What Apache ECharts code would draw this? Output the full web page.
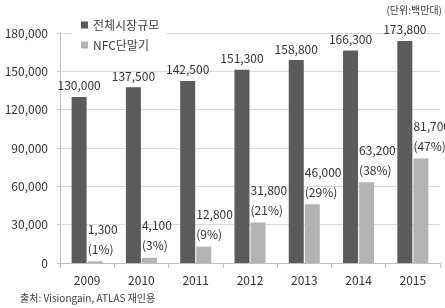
<!DOCTYPE html>
<html><head><meta charset="utf-8">
<script src="https://cdn.jsdelivr.net/npm/echarts@6/dist/echarts.min.js"></script>
<style>html,body{margin:0;padding:0;background:#fff}#c{width:445px;height:308px}</style>
</head><body><div id="c"></div>
<script>
const years = ['2009','2010','2011','2012','2013','2014','2015'];
const totalMarket = [130000,137500,142500,151300,158800,166300,173800];
const nfcDevices = [1300,4100,12800,31800,46000,63200,81700];
const nfcShare = [1,3,9,21,29,38,47];
const seriesNames = ['전체시장규모','NFC단말기'];
const unitText = '(단위:백만대)';
const sourceText = '출처: Visiongain, ATLAS 재인용';

const FONT = '"Noto Sans CJK KR", "Noto Sans", sans-serif';
const fmt = v => String(v).replace(/\B(?=(\d{3})+(?!\d))/g, ',');
const chart = echarts.init(document.getElementById('c'));
chart.setOption({
  animation: false,
  textStyle: {fontFamily: FONT},
  grid: {left: 60, right: 5, top: 33, bottom: 45},
  legend: {
    orient: 'vertical', left: 72, top: 14,
    backgroundColor: '#fff', padding: [4, 7, 4, 9],
    itemWidth: 7, itemHeight: 7, itemGap: 6, icon: 'rect',
    textStyle: {fontSize: 12, color: '#404040', fontFamily: FONT, lineHeight: 14},
    data: seriesNames
  },
  xAxis: {
    type: 'category', data: years,
    axisLine: {lineStyle: {color: '#bfbfbf'}},
    axisTick: {show: true, length: 5, lineStyle: {color: '#bfbfbf'}},
    axisLabel: {fontSize: 12, color: '#333', margin: 11, fontFamily: FONT}
  },
  yAxis: {
    type: 'value', min: 0, max: 180000, interval: 30000,
    axisLine: {show: true, lineStyle: {color: '#bfbfbf'}},
    axisTick: {show: true, length: 3, lineStyle: {color: '#bfbfbf'}},
    splitLine: {lineStyle: {color: '#d9d9d9'}},
    axisLabel: {fontSize: 12, color: '#333', margin: 12, fontFamily: FONT, formatter: v => fmt(v)}
  },
  series: [
    {
      name: seriesNames[0], type: 'bar', data: totalMarket,
      barWidth: 15, barGap: '7%',
      itemStyle: {color: '#5b5b5b'},
      label: {show: true, position: 'top', distance: 5, fontSize: 12, color: '#333', fontFamily: FONT,
        formatter: p => fmt(p.value)}
    },
    {
      name: seriesNames[1], type: 'bar', data: nfcDevices,
      barWidth: 15,
      itemStyle: {color: '#b3b3b3'},
      label: {show: true, position: [0, -2], align: 'left', verticalAlign: 'bottom',
        fontSize: 12, lineHeight: 20, color: '#333', fontFamily: FONT,
        formatter: p => fmt(p.value) + '\n(' + nfcShare[p.dataIndex] + '%)'}
    }
  ],
  graphic: [
    {type: 'text', right: 3, top: 5, style: {text: unitText, fontSize: 10, fill: '#404040', fontFamily: FONT}},
    {type: 'text', left: 20, top: 293, style: {text: sourceText, fontSize: 10, fill: '#404040', fontFamily: FONT}}
  ]
});
</script></body></html>
